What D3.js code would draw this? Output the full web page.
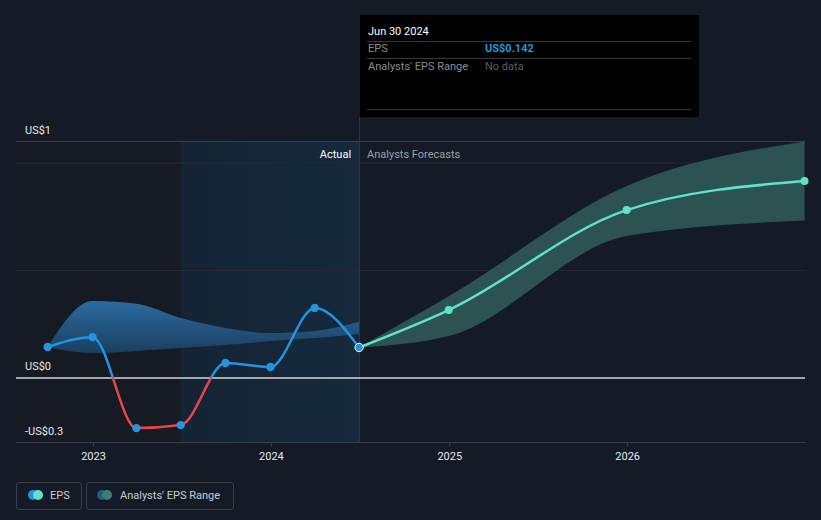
<!DOCTYPE html>
<html><head><meta charset="utf-8">
<script src="https://cdn.jsdelivr.net/npm/d3@7"></script>
<style>
html,body{margin:0;padding:0;background:#151b26;}
svg{display:block;font-family:Roboto, "Noto Sans", sans-serif;}
</style></head>
<body>
<svg id="chart" width="821" height="520"></svg>
<script>
// ---- data ----
const actualDates = ["2022-09-30","2022-12-31","2023-03-31","2023-06-30","2023-09-30","2023-12-31","2024-03-31","2024-06-30"];
const actualEPS = [0.144, 0.19, -0.233, -0.219, 0.07, 0.051, 0.326, 0.142];
const pastRangeDates = ["2022-09-30","2022-12-31","2023-03-31","2023-06-30","2023-09-30","2023-12-31","2024-03-31","2024-06-30"];
const pastRangeHigh = [0.144, 0.358, 0.345, 0.279, 0.233, 0.209, 0.219, 0.262];
const pastRangeLow  = [0.144, 0.116, 0.126, 0.14, 0.153, 0.172, 0.186, 0.205];
const forecastDates = ["2024-06-30","2024-12-31","2025-12-31","2026-12-31"];
const forecastEPS = [0.142, 0.316, 0.781, 0.916];
const forecastHigh = [0.142, 0.38, 0.893, 1.1];
const forecastLow  = [0.142, 0.195, 0.66, 0.732];
const yTickValues = [1.1, 0, -0.3];
const yTickLabels = ["US$1", "US$0", "-US$0.3"];
const gridValues = [1.0, 0.5];
const xTickYears = ["2023","2024","2025","2026"];
const tooltipDate = "Jun 30 2024";
const tooltipEPS = "US$0.142";
const tooltipRange = "No data";

const parse = d3.timeParse("%Y-%m-%d");
const svg = d3.select("#chart");
const L = 16, R = 805, T = 141.5, B = 442.5;
const x = d3.scaleTime().domain([parse("2022-07-27"), parse("2027-01-01")]).range([L, R]);
const y = d3.scaleLinear().domain([-0.3, 1.1]).range([B, T]);

const defs = svg.append("defs");
const g1 = defs.append("linearGradient").attr("id","pastBand")
  .attr("gradientUnits","userSpaceOnUse").attr("x1",0).attr("x2",0).attr("y1", y(0.36)).attr("y2", y(0.11));
g1.append("stop").attr("offset","0%").attr("stop-color","#2b6ca2");
g1.append("stop").attr("offset","100%").attr("stop-color","#1b3d5d");
const g2 = defs.append("linearGradient").attr("id","hl").attr("x1",0).attr("x2",1).attr("y1",0).attr("y2",0);
g2.append("stop").attr("offset","0%").attr("stop-color","#142435");
g2.append("stop").attr("offset","100%").attr("stop-color","#16293d");
defs.append("clipPath").attr("id","above").append("rect").attr("x",0).attr("y",0).attr("width",821).attr("height",y(0));
defs.append("clipPath").attr("id","below").append("rect").attr("x",0).attr("y",y(0)).attr("width",821).attr("height",520-y(0));

// regions
const splitDate = parse("2023-06-30"), nowDate = parse("2024-06-30");
svg.append("rect").attr("x",L).attr("y",T).attr("width",x(splitDate)-L).attr("height",B-T).attr("fill","#161a22");
svg.append("rect").attr("x",x(splitDate)).attr("y",T).attr("width",x(nowDate)-x(splitDate)).attr("height",B-T).attr("fill","url(#hl)");

// grid
svg.append("line").attr("x1",L).attr("x2",R).attr("y1",y(1.1)).attr("y2",y(1.1)).attr("stroke","#3a404b").attr("stroke-width",1);
gridValues.forEach(v=>svg.append("line").attr("x1",L).attr("x2",R).attr("y1",y(v)).attr("y2",y(v)).attr("stroke","#252b35").attr("stroke-width",1));

// vertical hover line
svg.append("line").attr("x1",x(nowDate)+0.5).attr("x2",x(nowDate)+0.5).attr("y1",117).attr("y2",B).attr("stroke","#233a52").attr("stroke-width",1);

// bands
const pastBand = pastRangeDates.map((d,i)=>({d:parse(d),h:pastRangeHigh[i],l:pastRangeLow[i]}));
const fcBand = forecastDates.map((d,i)=>({d:parse(d),h:forecastHigh[i],l:forecastLow[i]}));
const area = d3.area().x(d=>x(d.d)).y0(d=>y(d.l)).y1(d=>y(d.h)).curve(d3.curveMonotoneX);
svg.append("path").datum(pastBand).attr("d",area).attr("fill","url(#pastBand)");
svg.append("path").datum(fcBand).attr("d",area).attr("fill","#2c5352");

// zero line & axis
svg.append("line").attr("x1",L).attr("x2",R).attr("y1",y(0)).attr("y2",y(0)).attr("stroke","#d4d6da").attr("stroke-width",1.5);
svg.append("line").attr("x1",L).attr("x2",R).attr("y1",B).attr("y2",B).attr("stroke","#3a404b").attr("stroke-width",1);
const xAxis = d3.axisBottom(x).tickValues(xTickYears.map(s=>parse(s+"-01-01"))).tickFormat(d3.timeFormat("%Y")).tickSize(4).tickPadding(6);
const xa = svg.append("g").attr("transform",`translate(0,${B})`).call(xAxis);
xa.select(".domain").remove();
xa.selectAll("line").attr("stroke","#3a404b");
xa.selectAll("text").attr("fill","#e6e8eb").attr("font-size",11).attr("font-weight",400).style("font-family","Roboto");

// y labels
yTickValues.forEach((v,i)=>{
  svg.append("text").attr("x",25).attr("y",y(v)-8).attr("fill","#e6e8eb").attr("font-size",11).attr("font-weight",400).text(yTickLabels[i]);
});

// Actual / forecasts labels
svg.append("text").attr("x",x(nowDate)-8).attr("y",158).attr("text-anchor","end").attr("fill","#ffffff").attr("font-size",11).text("Actual");
svg.append("text").attr("x",x(nowDate)+8).attr("y",158).attr("fill","#9aa0a8").attr("font-size",11).text("Analysts Forecasts");

// lines
const act = actualDates.map((d,i)=>({d:parse(d),v:actualEPS[i]}));
const fc = forecastDates.map((d,i)=>({d:parse(d),v:forecastEPS[i]}));
const line = d3.line().x(d=>x(d.d)).y(d=>y(d.v)).curve(d3.curveMonotoneX);
svg.append("path").datum(fc).attr("d",line).attr("fill","none").attr("stroke","#5fe3cb").attr("stroke-width",2.5);
svg.append("path").datum(act).attr("d",line).attr("fill","none").attr("stroke","#2394df").attr("stroke-width",2.5).attr("clip-path","url(#above)");
svg.append("path").datum(act).attr("d",line).attr("fill","none").attr("stroke","#e5484b").attr("stroke-width",2.5).attr("clip-path","url(#below)");
svg.selectAll(".fcpt").data(fc.slice(1)).enter().append("circle").attr("cx",d=>x(d.d)).attr("cy",d=>y(d.v)).attr("r",4).attr("fill","#5fe3cb");
svg.selectAll(".apt").data(act).enter().append("circle").attr("cx",d=>x(d.d)).attr("cy",d=>y(d.v)).attr("r",4.2)
  .attr("fill","#2394df").attr("stroke",(d,i)=>i===act.length-1?"#ffffff":"none").attr("stroke-width",1);

// tooltip
const tt = svg.append("g");
tt.append("rect").attr("x",360).attr("y",15).attr("width",339).attr("height",102).attr("fill","#000000");
tt.append("text").attr("x",368).attr("y",35).attr("fill","#ffffff").attr("font-size",11).text(tooltipDate);
[41.5,58.5,109.5].forEach(yy=>tt.append("line").attr("x1",367).attr("x2",691).attr("y1",yy).attr("y2",yy).attr("stroke","#3a3a3a").attr("stroke-width",1));
tt.append("text").attr("x",368).attr("y",52).attr("fill","#8a8d92").attr("font-size",11).text("EPS");
tt.append("text").attr("x",485).attr("y",52).attr("fill","#2394df").attr("font-size",11).attr("font-weight",700).text(tooltipEPS);
tt.append("text").attr("x",368).attr("y",70).attr("fill","#8a8d92").attr("font-size",11).text("Analysts' EPS Range");
tt.append("text").attr("x",485).attr("y",70).attr("fill","#5c5f64").attr("font-size",11).text(tooltipRange);

// legend
const lg = svg.append("g");
lg.append("rect").attr("x",16.5).attr("y",482.5).attr("width",65).attr("height",27).attr("rx",3).attr("fill","none").attr("stroke","#3a3f4a");
lg.append("circle").attr("cx",33).attr("cy",495).attr("r",5).attr("fill","#2394df");
lg.append("circle").attr("cx",38).attr("cy",495).attr("r",5).attr("fill","#5fe3cb");
lg.append("text").attr("x",50).attr("y",499).attr("fill","#c8ccd2").attr("font-size",11).text("EPS");
lg.append("rect").attr("x",86.5).attr("y",482.5).attr("width",147).attr("height",27).attr("rx",3).attr("fill","none").attr("stroke","#3a3f4a");
lg.append("circle").attr("cx",102).attr("cy",495).attr("r",5).attr("fill","#235b88");
lg.append("circle").attr("cx",107).attr("cy",495).attr("r",5).attr("fill","#3e7e78");
lg.append("text").attr("x",120).attr("y",499).attr("fill","#c8ccd2").attr("font-size",11).text("Analysts' EPS Range");
</script>
</body></html>
